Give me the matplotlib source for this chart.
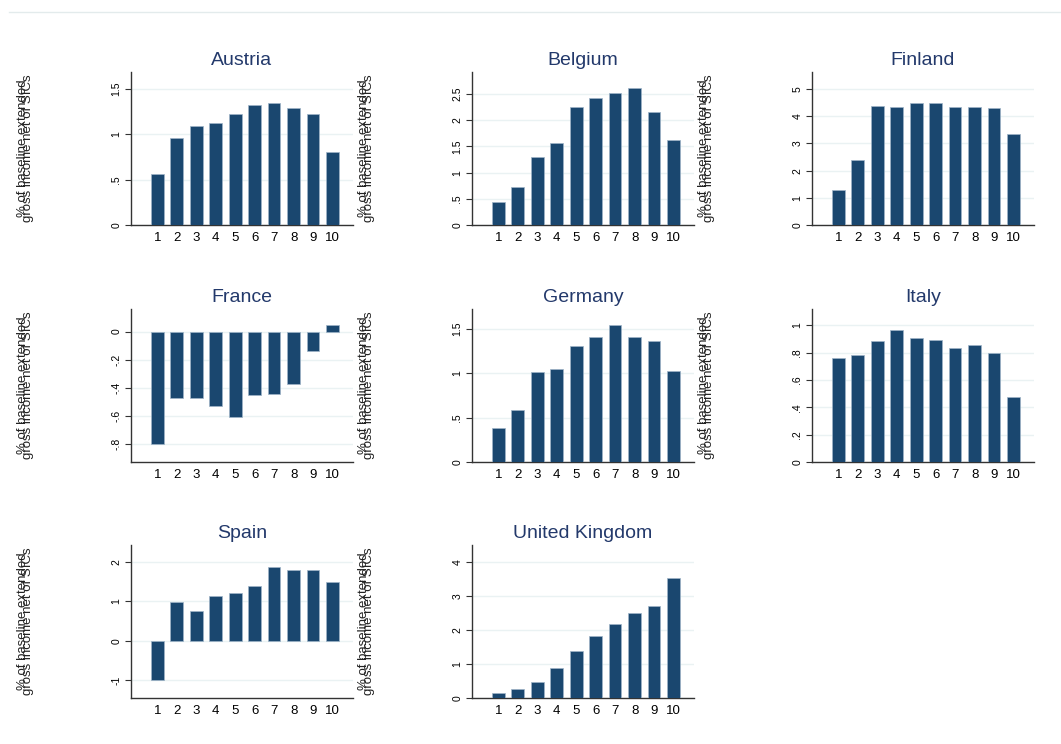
import matplotlib
matplotlib.use("Agg")
import matplotlib.pyplot as plt
from matplotlib.lines import Line2D

plt.rcParams['font.family'] = ['Liberation Sans', 'DejaVu Sans']

# deciles on the x axis
deciles = [1, 2, 3, 4, 5, 6, 7, 8, 9, 10]

# change by decile, % of baseline extended gross income net of SICs
austria = [0.565, 0.957, 1.093, 1.123, 1.226, 1.33, 1.353, 1.29, 1.226, 0.81]
belgium = [0.43, 0.73, 1.29, 1.56, 2.25, 2.42, 2.51, 2.61, 2.15, 1.63]
finland = [1.29, 2.40, 4.38, 4.33, 4.48, 4.50, 4.33, 4.36, 4.31, 3.35]
france = [-0.80, -0.475, -0.47, -0.53, -0.605, -0.453, -0.444, -0.373, -0.14, 0.048]
germany = [0.383, 0.58, 1.008, 1.049, 1.30, 1.405, 1.54, 1.405, 1.36, 1.02]
italy = [0.757, 0.779, 0.884, 0.968, 0.909, 0.894, 0.830, 0.857, 0.796, 0.472]
spain = [-0.99, 0.985, 0.765, 1.13, 1.206, 1.39, 1.86, 1.80, 1.785, 1.48]
uk = [0.157, 0.276, 0.473, 0.887, 1.38, 1.82, 2.19, 2.51, 2.72, 3.52]

countries = ["Austria", "Belgium", "Finland", "France", "Germany",
             "Italy", "Spain", "United Kingdom"]
series = [austria, belgium, finland, france, germany, italy, spain, uk]

# y ticks and y ranges for each panel
yticks = [[0, 0.5, 1, 1.5],
          [0, 0.5, 1, 1.5, 2, 2.5],
          [0, 1, 2, 3, 4, 5],
          [-0.8, -0.6, -0.4, -0.2, 0],
          [0, 0.5, 1, 1.5],
          [0, 0.2, 0.4, 0.6, 0.8, 1],
          [-1, 0, 1, 2],
          [0, 1, 2, 3, 4]]
yranges = [(0, 1.69), (0, 2.92), (0, 5.63), (-0.926, 0.16),
           (0, 1.72), (0, 1.118), (-1.455, 2.43), (0, 4.5)]

ylabel_1 = "% of baseline extended"
ylabel_2 = "gross income net of SICs"

bar_color = "#1a476f"
title_color = "#23396b"
grid_color = "#eaf2f3"

W, H = 1061, 744
fig = plt.figure(figsize=(W / 100, H / 100), dpi=100)

# faint line at the very top of the graph region
fig.add_artist(Line2D([9 / W, 1], [1 - 12 / H, 1 - 12 / H],
                      color="#e3ebec", linewidth=1))

col_left = [131, 472, 812]
row_top = [72, 309, 545]
ax_w, ax_h = 222, 153


def fmt(v):
    s = "%g" % v
    if s == "0":
        return s
    return s.replace("-0.", "-.").replace("0.", ".")


for i, (name, vals) in enumerate(zip(countries, series)):
    r, c = divmod(i, 3)
    left = col_left[c]
    top = row_top[r]
    ax = fig.add_axes([left / W, 1 - (top + ax_h) / H, ax_w / W, ax_h / H])

    ax.bar(deciles, vals, width=0.65, color=bar_color,
           edgecolor="#9fb4c8", linewidth=0.5, zorder=3)

    ax.set_xlim(-0.35, 11.05)
    ax.set_ylim(*yranges[i])
    ax.set_xticks(deciles)
    ax.set_xticklabels([str(d) for d in deciles], fontsize=9.5)
    ax.set_yticks(yticks[i])
    ax.set_yticklabels([fmt(t) for t in yticks[i]], fontsize=7.5,
                       rotation=90, va="center")
    ax.tick_params(axis="x", length=0, pad=5)
    ax.tick_params(axis="y", length=4, width=0.8, color="#333333", pad=3)

    for t in yticks[i]:
        ax.axhline(t, color=grid_color, linewidth=1, zorder=1)

    for s in ["top", "right"]:
        ax.spines[s].set_visible(False)
    for s in ["left", "bottom"]:
        ax.spines[s].set_color("#333333")
        ax.spines[s].set_linewidth(1)

    ax.set_title(name, fontsize=14, color=title_color, pad=5)

    # two-line y label, lines drawn almost on top of each other
    yc = 1 - (top + ax_h / 2) / H
    fig.text((left - 108) / W, yc, ylabel_1, rotation=90, fontsize=9.5,
             ha="center", va="center", color="#222222")
    fig.text((left - 103) / W, yc, ylabel_2, rotation=90, fontsize=9.5,
             ha="center", va="center", color="#222222")

fig.savefig("out.png", dpi=100, facecolor="white")
